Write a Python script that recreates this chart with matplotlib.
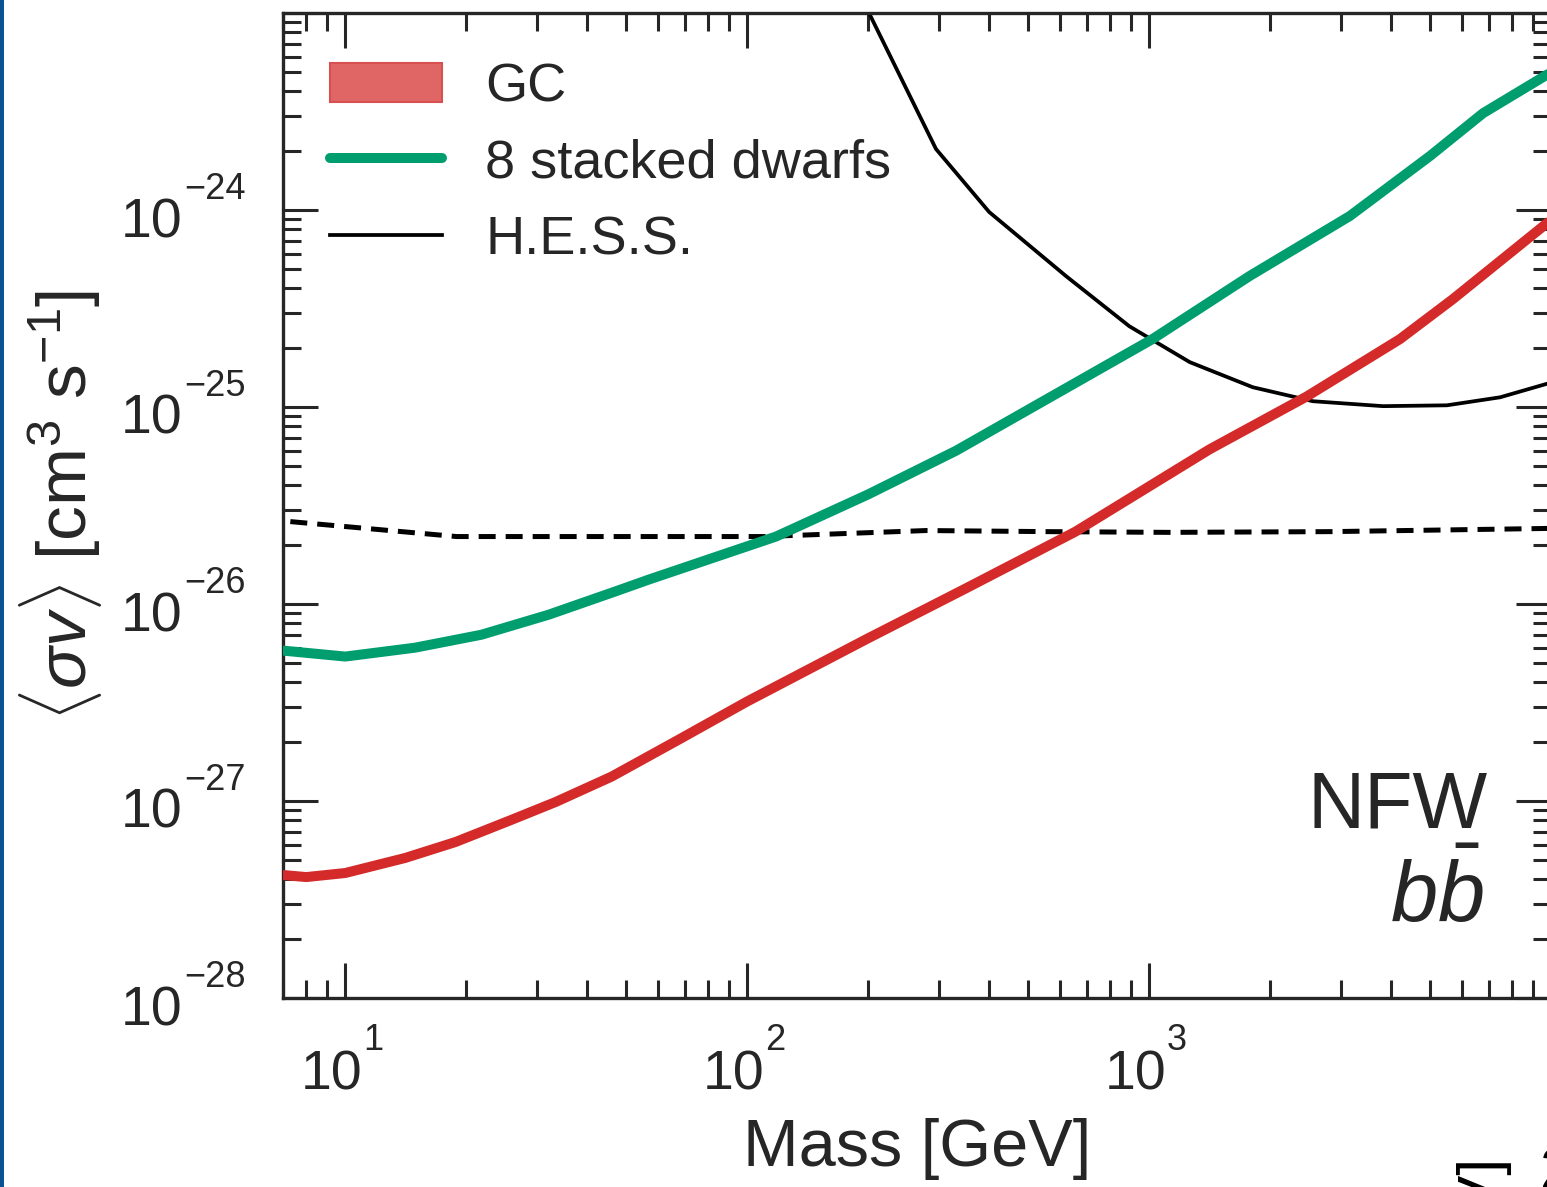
import matplotlib
matplotlib.use("Agg")
import numpy as np
import matplotlib.pyplot as plt
from matplotlib.patches import Patch, Rectangle
from matplotlib.lines import Line2D
from matplotlib.ticker import LogLocator, NullFormatter
from matplotlib.transforms import blended_transform_factory, offset_copy

# values (GeV, cm^3 s^-1)
gc_mass = [7.0, 8.0, 10.0, 14.1, 18.8, 25.9, 33.4, 46.0, 67.6, 100, 200, 350,
           656, 1413, 2466, 4207, 5702, 10000]
gc_sv = [4.21e-28, 4.11e-28, 4.31e-28, 5.14e-28, 6.19e-28, 8.02e-28, 9.89e-28,
         1.33e-27, 2.05e-27, 3.2e-27, 6.7e-27, 1.2e-26, 2.33e-26, 6.09e-26,
         1.13e-25, 2.21e-25, 3.53e-25, 8.9e-25]

dwarf_mass = [7.0, 10, 14.9, 21.8, 32.1, 47.1, 56.9, 118, 200, 331, 1019, 1778,
              3158, 5000, 6776, 10000]
dwarf_sv = [5.8e-27, 5.41e-27, 6.00e-27, 6.98e-27, 8.83e-27, 1.16e-26, 1.33e-26,
            2.20e-26, 3.6e-26, 6.0e-26, 2.21e-25, 4.62e-25, 9.32e-25, 1.88e-24,
            3.1e-24, 5.0e-24]

hess_mass = [200, 295, 400, 622, 893, 1262, 1811, 2555, 3817, 5508, 7469, 10000]
hess_sv = [1.02e-23, 2.04e-24, 9.77e-25, 4.61e-25, 2.57e-25, 1.69e-25, 1.26e-25,
           1.07e-25, 1.01e-25, 1.02e-25, 1.12e-25, 1.33e-25]

relic_mass = [7.3, 18.9, 110, 279, 558, 1117, 2832, 10000]
relic_sv = [2.62e-26, 2.20e-26, 2.20e-26, 2.36e-26, 2.33e-26, 2.31e-26,
            2.33e-26, 2.42e-26]

legend_labels = ["GC", "8 stacked dwarfs", "H.E.S.S."]
x_ticks = [10, 100, 1000]
y_ticks = [1e-28, 1e-27, 1e-26, 1e-25, 1e-24]

RED = "#d42a2a"
GREEN = "#009e6e"
INK = "#262626"

plt.rcParams['font.family'] = ['Liberation Sans', 'DejaVu Sans']
plt.rcParams['mathtext.fontset'] = 'custom'
plt.rcParams['mathtext.rm'] = 'Liberation Sans'
plt.rcParams['mathtext.it'] = 'Liberation Sans:italic'
plt.rcParams['mathtext.bf'] = 'Liberation Sans:bold'
plt.rcParams['mathtext.sf'] = 'Liberation Sans'
plt.rcParams['text.color'] = INK
plt.rcParams['axes.labelcolor'] = INK

W, H = 1547, 1187
fig = plt.figure(figsize=(W / 100, H / 100), dpi=100)
# axes box in pixels: left 283, right 1551 (cut off by the frame), top 13, bottom 998
ax = fig.add_axes([283 / W, (H - 998) / H, (1551 - 283) / W, (998 - 13) / H])

ax.plot(gc_mass, gc_sv, color=RED, lw=7.2, solid_capstyle='round', zorder=3)
ax.plot(dwarf_mass, dwarf_sv, color=GREEN, lw=7.2, solid_capstyle='round', zorder=3)
ax.plot(hess_mass, hess_sv, color='black', lw=2.7, zorder=2)
ax.plot(relic_mass, relic_sv, color='black', lw=3.6, dashes=(3.4, 2.0), zorder=2)

ax.set_xscale('log')
ax.set_yscale('log')
ax.set_xlim(7, 1e4)
ax.set_ylim(1e-28, 1e-23)

for side in ax.spines.values():
    side.set_linewidth(2.4)
    side.set_color(INK)

ax.set_xticks(x_ticks + [1e4])
ax.set_yticks(y_ticks + [1e-23])
ax.set_xticklabels([])
ax.set_yticklabels([])
ax.xaxis.set_minor_locator(LogLocator(base=10, subs=range(2, 10), numticks=20))
ax.yaxis.set_minor_locator(LogLocator(base=10, subs=range(2, 10), numticks=20))
ax.xaxis.set_minor_formatter(NullFormatter())
ax.yaxis.set_minor_formatter(NullFormatter())
ax.tick_params(which='both', direction='in', top=True, right=True, color=INK,
               width=2.2)
ax.tick_params(which='major', length=25)
ax.tick_params(which='minor', length=13)

# tick labels as "10" with a raised exponent, like the original
tx = blended_transform_factory(ax.transData, ax.transAxes)
for v in x_ticks:
    e = int(round(np.log10(v)))
    ax.text(v, 0, "10", fontsize=40, ha='right', va='baseline',
            transform=offset_copy(tx, fig, x=17, y=-92, units='dots'))
    ax.text(v, 0, str(e), fontsize=26, ha='left', va='baseline',
            transform=offset_copy(tx, fig, x=18, y=-52, units='dots'))

ty = blended_transform_factory(ax.transAxes, ax.transData)
for v in y_ticks:
    e = int(round(np.log10(v)))
    ax.text(0, v, "10", fontsize=40, ha='right', va='baseline',
            transform=offset_copy(ty, fig, x=-101, y=-27, units='dots'))
    ax.text(0, v, "\u2212" + str(-e), fontsize=26, ha='left', va='baseline',
            transform=offset_copy(ty, fig, x=-99, y=11, units='dots'))

ax.set_xlabel("Mass [GeV]", fontsize=48)
ax.xaxis.set_label_coords(0.5, -0.122)
ax.set_ylabel(r"$\langle\sigma v\rangle$ [cm$^3$ s$^{-1}$]", fontsize=50)
ax.yaxis.set_label_coords(-0.141, 0.5)

ax.text(0.950, 0.1726, "NFW", transform=ax.transAxes, fontsize=57,
        ha='right', va='baseline')
ax.text(0.947, 0.0772, r"$b\bar{b}$", transform=ax.transAxes, fontsize=61,
        ha='right', va='baseline')

handles = [
    Patch(facecolor="#e06565", edgecolor="#d95050", lw=1.5),
    Line2D([], [], color=GREEN, lw=7.2, solid_capstyle='round'),
    Line2D([], [], color='black', lw=2.7),
]
ax.legend(handles, legend_labels, loc='upper left', bbox_to_anchor=(0.037, 0.950),
          frameon=False, fontsize=39, handlelength=2.07, handletextpad=0.8,
          handleheight=0.75, labelspacing=0.49, borderpad=0, borderaxespad=0)

# slide edge and a fragment of the neighbouring panel
fig.patches.append(Rectangle((0, 0), 4 / W, 1, transform=fig.transFigure,
                             facecolor="#0b5394", edgecolor='none'))
fig.text(1485 / W, (H - 1158) / H, "Mass [GeV]", rotation=90, fontsize=43,
         ha='center', va='top', color='black')
fig.text(1540 / W, (H - 1146) / H, "2", fontsize=43, ha='left', va='top',
         color='black')

fig.savefig("out.png", dpi=100)
